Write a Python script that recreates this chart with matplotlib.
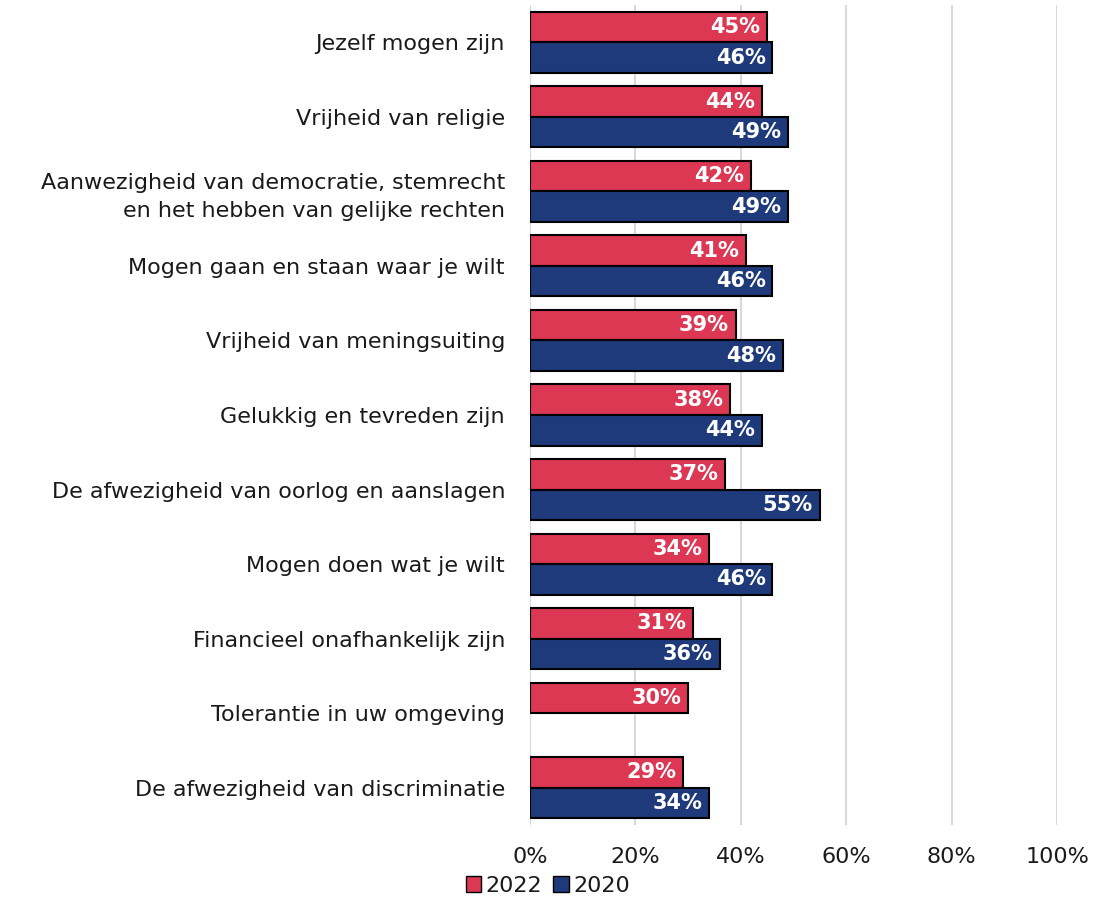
import numpy as np
import matplotlib.pyplot as plt
from matplotlib.patches import Patch

categories = [
    "Jezelf mogen zijn",
    "Vrijheid van religie",
    "Aanwezigheid van democratie, stemrecht\nen het hebben van gelijke rechten",
    "Mogen gaan en staan waar je wilt",
    "Vrijheid van meningsuiting",
    "Gelukkig en tevreden zijn",
    "De afwezigheid van oorlog en aanslagen",
    "Mogen doen wat je wilt",
    "Financieel onafhankelijk zijn",
    "Tolerantie in uw omgeving",
    "De afwezigheid van discriminatie",
]
vals_2022 = [45, 44, 42, 41, 39, 38, 37, 34, 31, 30, 29]
vals_2020 = [46, 49, 49, 46, 48, 44, 55, 46, 36, None, 34]
xticks = [0, 20, 40, 60, 80, 100]

red = "#DC3753"
navy = "#1F3A7A"
txt = "#1A1A1A"

fig = plt.figure(figsize=(11.02, 8.97), dpi=100)
ax = fig.add_axes([530 / 1102, 1 - 825 / 897, 527 / 1102, 820 / 897])

n = len(categories)
y = np.arange(n)
h = 0.41

ax.set_axisbelow(True)
ax.grid(axis="x", color="#D9D9D9", linewidth=1.5)

# draw bars with value labels inside the bar end
for i in range(n):
    v22 = vals_2022[i]
    ax.barh(y[i] - h / 2, v22, height=h, color=red, edgecolor="black", linewidth=1.5)
    ax.text(v22 - 1.3, y[i] - h / 2, f"{v22}%", ha="right", va="center",
            color="white", fontsize=15, fontweight="bold")
    v20 = vals_2020[i]
    if v20 is not None:
        ax.barh(y[i] + h / 2, v20, height=h, color=navy, edgecolor="black", linewidth=1.5)
        ax.text(v20 - 1.3, y[i] + h / 2, f"{v20}%", ha="right", va="center",
                color="white", fontsize=15, fontweight="bold")

ax.set_ylim(n - 0.5, -0.5)
ax.set_xlim(0, 100)
ax.set_yticks(y)
ax.set_yticklabels(categories, fontsize=16, color=txt, linespacing=1.45)
ax.set_xticks(xticks)
ax.set_xticklabels([f"{t}%" for t in xticks], fontsize=16, color=txt)
ax.tick_params(axis="both", length=0)
ax.tick_params(axis="x", pad=16)
ax.tick_params(axis="y", pad=18)
for s in ax.spines.values():
    s.set_visible(False)

handles = [Patch(facecolor=red, edgecolor="black", label="2022"),
           Patch(facecolor=navy, edgecolor="black", label="2020")]
fig.legend(handles=handles, loc="center", bbox_to_anchor=(548 / 1102, 1 - 886 / 897),
           ncol=2, frameon=False, fontsize=16, handlelength=0.7, handleheight=0.7,
           handletextpad=0.2, columnspacing=0.5, labelcolor=txt)

fig.savefig("out.png", dpi=100)
